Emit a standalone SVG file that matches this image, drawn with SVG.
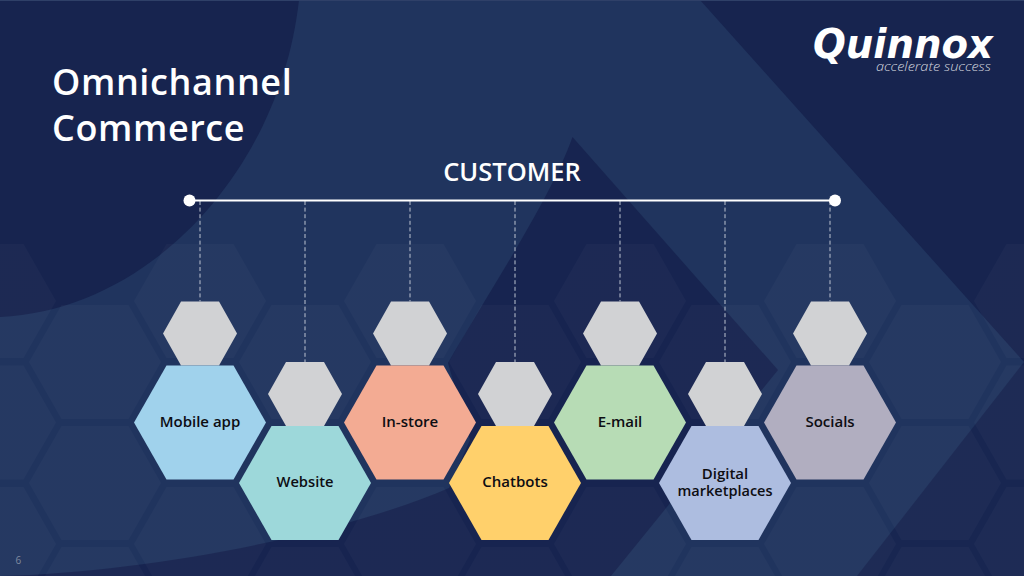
<svg xmlns="http://www.w3.org/2000/svg" xmlns:xlink="http://www.w3.org/1999/xlink" width="1024" height="576" viewBox="0 0 1024 576">
<style>
.lbl{font-family:"Open Sans","Noto Sans",sans-serif;font-weight:600;font-size:15px;fill:#0d0d12;text-anchor:middle}
.ttl{font-family:"Open Sans","Noto Sans",sans-serif;font-weight:600;font-size:36px;fill:#fff;letter-spacing:.6px}
.dash{stroke:#bcc3d0;stroke-width:1;stroke-dasharray:4 2.6;fill:none}
.grey{fill:#d1d2d4}
</style>
<defs>
<polygon id="hexB" points="-66,0 -33.5,-57 33.5,-57 66,0 33.5,57 -33.5,57"/>
<polygon id="hexS" points="-37,0 -19,-32 19,-32 37,0 19,32 -19,32"/>
<linearGradient id="hexFill" gradientUnits="userSpaceOnUse" x1="0" y1="244" x2="0" y2="576">
<stop offset="0" stop-color="#fff" stop-opacity=".025"/>
<stop offset="1" stop-color="#fff" stop-opacity=".075"/>
</linearGradient>
</defs>
<g id="background">
<rect width="1024" height="576" fill="#20345e"/>
<path d="M299 0C280 170 150 310 0 317V0Z" fill="#17244f"/>
<path d="M700 0H1024V362Z" fill="#17244f"/>
<path d="M1024 362L857 576H1024Z" fill="#17244f" opacity=".85"/>
<path d="M572.5 137L778 370L611 576H0C150 572 340 535 449 488L470 440L448 363C490 290 550 200 572.5 137Z" fill="#17244f" opacity=".95"/>
<rect width="1024" height="1" fill="#2f4068"/>
<g fill="url(#hexFill)">
<use href="#hexB" x="-10" y="301"/><use href="#hexB" x="-10" y="422.5"/><use href="#hexB" x="-10" y="544"/>
<use href="#hexB" x="95" y="362"/><use href="#hexB" x="95" y="483"/><use href="#hexB" x="95" y="604"/>
<use href="#hexB" x="200" y="301"/><use href="#hexB" x="200" y="544"/>
<use href="#hexB" x="305" y="362"/><use href="#hexB" x="305" y="604"/>
<use href="#hexB" x="410" y="301"/><use href="#hexB" x="410" y="544"/>
<use href="#hexB" x="515" y="362"/><use href="#hexB" x="515" y="604"/>
<use href="#hexB" x="620" y="301"/><use href="#hexB" x="620" y="544"/>
<use href="#hexB" x="725" y="362"/><use href="#hexB" x="725" y="604"/>
<use href="#hexB" x="830" y="301"/><use href="#hexB" x="830" y="544"/>
<use href="#hexB" x="935" y="362"/><use href="#hexB" x="935" y="483"/><use href="#hexB" x="935" y="604"/>
<use href="#hexB" x="1040" y="301"/><use href="#hexB" x="1040" y="422.5"/><use href="#hexB" x="1040" y="544"/>
</g>
</g>
<g id="logo">
<text x="813" y="57.5" font-family="'DejaVu Sans',sans-serif" font-weight="700" font-style="italic" font-size="41" fill="#fff" textLength="180" lengthAdjust="spacingAndGlyphs">Quinnox</text>
<text x="876" y="70.5" font-family="'Open Sans',sans-serif" font-weight="300" font-style="italic" font-size="13.5" fill="#d3d6df" textLength="115" lengthAdjust="spacingAndGlyphs">accelerate success</text>
</g>
<g id="title">
<text class="ttl" x="52" y="95">Omnichannel</text>
<text class="ttl" x="52" y="141">Commerce</text>
</g>
<g id="connectors">
<line x1="200" y1="201" x2="200" y2="301.5" class="dash"/>
<line x1="305" y1="201" x2="305" y2="362" class="dash"/>
<line x1="410" y1="201" x2="410" y2="301.5" class="dash"/>
<line x1="515" y1="201" x2="515" y2="362" class="dash"/>
<line x1="620" y1="201" x2="620" y2="301.5" class="dash"/>
<line x1="725" y1="201" x2="725" y2="362" class="dash"/>
<line x1="830" y1="201" x2="830" y2="301.5" class="dash"/>
<line x1="190" y1="200.5" x2="835" y2="200.5" stroke="#fff" stroke-width="2"/>
<circle cx="189.5" cy="200.5" r="6" fill="#fff"/>
<circle cx="835" cy="200.5" r="6" fill="#fff"/>
</g>
<g id="customer">
<text x="512" y="181" font-family="'Open Sans','Noto Sans',sans-serif" font-weight="600" font-size="25.5" fill="#fff" text-anchor="middle">CUSTOMER</text>
</g>
<g id="node-mobile-app">
<use href="#hexS" class="grey" x="200" y="333.5"/><use href="#hexB" x="200" y="422.5" fill="#a0d2ec"/>
<text class="lbl" x="200" y="426.5">Mobile app</text>
</g>
<g id="node-website">
<use href="#hexS" class="grey" x="305" y="394"/><use href="#hexB" x="305" y="483" fill="#9dd8da"/>
<text class="lbl" x="305" y="487" textLength="57" lengthAdjust="spacingAndGlyphs">Website</text>
</g>
<g id="node-in-store">
<use href="#hexS" class="grey" x="410" y="333.5"/><use href="#hexB" x="410" y="422.5" fill="#f3ab93"/>
<text class="lbl" x="410" y="426.5">In-store</text>
</g>
<g id="node-chatbots">
<use href="#hexS" class="grey" x="515" y="394"/><use href="#hexB" x="515" y="483" fill="#ffd06b"/>
<text class="lbl" x="515" y="487">Chatbots</text>
</g>
<g id="node-e-mail">
<use href="#hexS" class="grey" x="620" y="333.5"/><use href="#hexB" x="620" y="422.5" fill="#b7dcb5"/>
<text class="lbl" x="620" y="426.5">E-mail</text>
</g>
<g id="node-digital-marketplaces">
<use href="#hexS" class="grey" x="725" y="394"/><use href="#hexB" x="725" y="483" fill="#adbde0"/>
<text class="lbl" x="725" y="479">Digital</text>
<text class="lbl" x="725" y="495.5" textLength="95" lengthAdjust="spacingAndGlyphs">marketplaces</text>
</g>
<g id="node-socials">
<use href="#hexS" class="grey" x="830" y="333.5"/><use href="#hexB" x="830" y="422.5" fill="#b1aec0"/>
<text class="lbl" x="830" y="426.5">Socials</text>
</g>
<text id="page-number" x="15.5" y="564" font-family="'Open Sans',sans-serif" font-size="10" fill="#7f8aa0">6</text>
</svg>
